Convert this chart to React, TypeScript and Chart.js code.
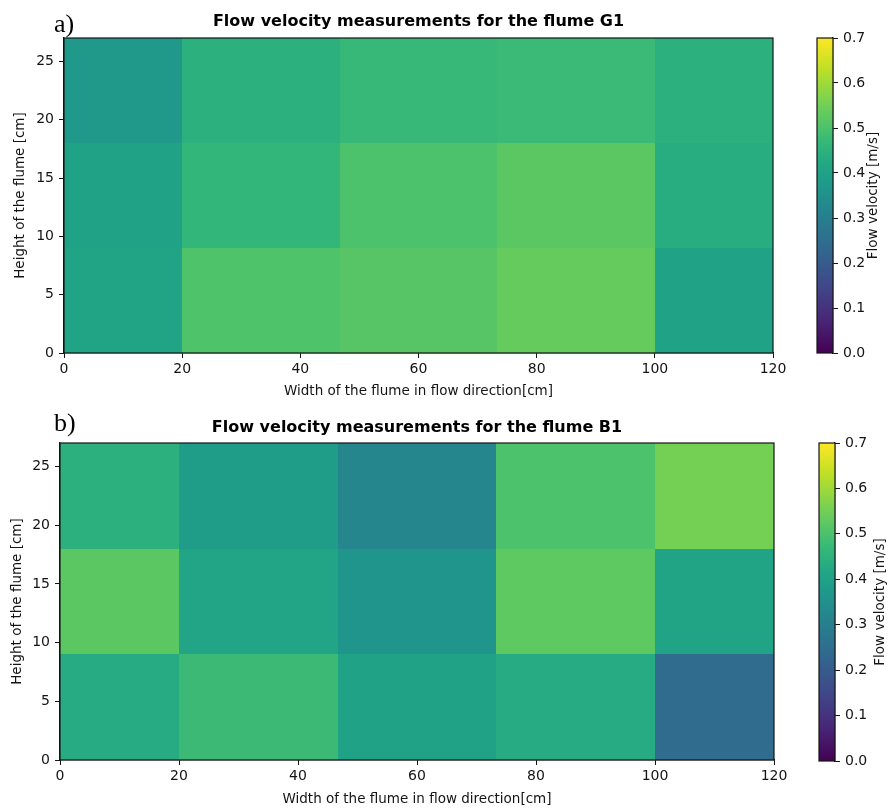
import React, { useEffect, useRef } from "react";
import { Chart, registerables } from "chart.js";

Chart.register(...registerables);

// ---- data ----
const xEdges = [0, 20, 46.7, 73.3, 100, 120];
const yEdges = [0, 9, 18, 27];
const xTicks = [0, 20, 40, 60, 80, 100, 120];
const yTicks = [0, 5, 10, 15, 20, 25];
const cbTicks = [0, 0.1, 0.2, 0.3, 0.4, 0.5, 0.6, 0.7];
const vMin = 0;
const vMax = 0.7;

// flume G1 rows (bottom 0-9, middle 9-18, top 18-27), columns left to right
const g1Bottom = [0.405, 0.505, 0.515, 0.535, 0.4];
const g1Middle = [0.4, 0.463, 0.5, 0.52, 0.435];
const g1Top = [0.37, 0.445, 0.47, 0.475, 0.445];

// flume B1
const b1Bottom = [0.43, 0.477, 0.4, 0.43, 0.245];
const b1Middle = [0.52, 0.41, 0.362, 0.525, 0.405];
const b1Top = [0.445, 0.385, 0.32, 0.5, 0.553];

const titleG1 = "Flow velocity measurements for the flume G1";
const titleB1 = "Flow velocity measurements for the flume B1";
const xTitle = "Width of the flume in flow direction[cm]";
const yTitle = "Height of the flume [cm]";
const cbTitle = "Flow velocity [m/s]";

// ---- colormap ----
const VIRIDIS: [number, string][] = [
  [0, "#440154"], [0.1, "#482475"], [0.111, "#482878"], [0.2, "#414487"],
  [0.222, "#3e4a89"], [0.3, "#355f8d"], [0.333, "#31688e"], [0.4, "#2a788e"],
  [0.444, "#26828e"], [0.5, "#21918c"], [0.556, "#1f9e89"], [0.6, "#22a884"],
  [0.667, "#35b779"], [0.7, "#44bf70"], [0.778, "#6dcd59"], [0.8, "#7ad151"],
  [0.889, "#b4de2c"], [0.9, "#bddf26"], [1, "#fde725"],
];
function hex(h: string) {
  return [1, 3, 5].map((i) => parseInt(h.slice(i, i + 2), 16));
}
function viridis(t: number) {
  t = Math.max(0, Math.min(1, t));
  for (let i = 0; i < VIRIDIS.length - 1; i++) {
    const [t0, c0] = VIRIDIS[i];
    const [t1, c1] = VIRIDIS[i + 1];
    if (t <= t1) {
      const f = (t - t0) / (t1 - t0);
      const a = hex(c0), b = hex(c1);
      const c = a.map((v, k) => Math.round(v + (b[k] - v) * f));
      return `rgb(${c[0]},${c[1]},${c[2]})`;
    }
  }
  return VIRIDIS[VIRIDIS.length - 1][1];
}

const FONT = '"DejaVu Sans", Verdana, sans-serif';
const INK = "#141414";

function buildCells(rows: number[][]) {
  const cells: any[] = [];
  rows.forEach((row, r) =>
    row.forEach((v, c) => {
      cells.push({
        x: (xEdges[c] + xEdges[c + 1]) / 2,
        y: (yEdges[r] + yEdges[r + 1]) / 2,
        x0: xEdges[c], x1: xEdges[c + 1],
        y0: yEdges[r], y1: yEdges[r + 1], v,
      });
    })
  );
  return cells;
}

function heatPlugin(panel: string, labelBaseline: number) {
  return {
    id: "heatcells",
    beforeDatasetsDraw(chart: any) {
      const { ctx, scales } = chart;
      const xs = scales.x, ys = scales.y;
      const data = chart.data.datasets[0].data as any[];
      ctx.save();
      data.forEach((d) => {
        const px0 = Math.round(xs.getPixelForValue(d.x0));
        const px1 = Math.round(xs.getPixelForValue(d.x1));
        const py0 = Math.round(ys.getPixelForValue(d.y0));
        const py1 = Math.round(ys.getPixelForValue(d.y1));
        ctx.fillStyle = viridis((d.v - vMin) / (vMax - vMin));
        ctx.fillRect(px0, py1, px1 - px0, py0 - py1);
      });
      ctx.restore();
    },
    afterDraw(chart: any) {
      const { ctx, chartArea: a } = chart;
      ctx.save();
      ctx.strokeStyle = INK;
      ctx.lineWidth = 1.2;
      ctx.strokeRect(a.left, a.top, a.right - a.left, a.bottom - a.top);
      ctx.fillStyle = "#000";
      ctx.font = '26px "Liberation Serif", "Times New Roman", serif';
      ctx.textAlign = "left";
      ctx.textBaseline = "alphabetic";
      ctx.fillText(panel, 54, labelBaseline);
      ctx.restore();
    },
  };
}

function colorbarPlugin(labelX: number) {
  return {
    id: "colorbar",
    beforeDatasetsDraw(chart: any) {
      const { ctx, chartArea: a, scales } = chart;
      const ys = scales.y;
      const pBottom = ys.getPixelForValue(vMin);
      const pTop = ys.getPixelForValue(vMax);
      const grad = ctx.createLinearGradient(0, pBottom, 0, pTop);
      VIRIDIS.forEach(([t, c]) => grad.addColorStop(t, c));
      ctx.save();
      ctx.fillStyle = grad;
      ctx.fillRect(a.left, pTop, a.right - a.left, pBottom - pTop);
      ctx.restore();
    },
    afterDraw(chart: any) {
      const { ctx, chartArea: a } = chart;
      ctx.save();
      ctx.strokeStyle = INK;
      ctx.lineWidth = 1.2;
      ctx.strokeRect(a.left, a.top, a.right - a.left, a.bottom - a.top);
      ctx.translate(labelX, (a.top + a.bottom) / 2);
      ctx.rotate(-Math.PI / 2);
      ctx.fillStyle = INK;
      ctx.font = `13.5px ${FONT}`;
      ctx.textAlign = "center";
      ctx.textBaseline = "middle";
      ctx.fillText(cbTitle, 0, 0);
      ctx.restore();
    },
  };
}

type HeatProps = {
  rows: number[][];
  title: string;
  panel: string;
  width: number;
  height: number;
  yAxisWidth: number;
  xAxisHeight: number;
  padRight: number;
  titlePadTop: number;
  titlePadBottom: number;
  yTitlePad: number;
  xTitlePad: number;
  labelBaseline: number;
};

function Heatmap(p: HeatProps) {
  const ref = useRef<HTMLCanvasElement>(null);
  useEffect(() => {
    const tickFont = { family: FONT, size: 14 };
    const chart = new Chart(ref.current as HTMLCanvasElement, {
      type: "scatter",
      data: {
        datasets: [
          { data: buildCells(p.rows), pointRadius: 0, pointHoverRadius: 0 },
        ],
      },
      options: {
        responsive: false,
        animation: false,
        events: [],
        layout: { padding: { left: 0, right: p.padRight, top: 0, bottom: 0 } },
        plugins: {
          legend: { display: false },
          tooltip: { enabled: false },
          title: {
            display: true,
            text: p.title,
            fullSize: false,
            color: "#000",
            font: { family: FONT, size: 16, weight: "bold" },
            padding: { top: p.titlePadTop, bottom: p.titlePadBottom },
          },
        },
        scales: {
          x: {
            type: "linear",
            position: "bottom",
            min: xEdges[0],
            max: xEdges[xEdges.length - 1],
            afterBuildTicks: (s: any) => {
              s.ticks = xTicks.map((v) => ({ value: v }));
            },
            afterFit: (s: any) => {
              s.height = p.xAxisHeight;
            },
            ticks: { color: INK, font: tickFont, padding: 3, maxRotation: 0 },
            grid: { drawOnChartArea: false, drawTicks: true, tickLength: 5, color: INK },
            border: { display: true, color: INK, width: 1.2 },
            title: {
              display: true,
              text: xTitle,
              color: INK,
              font: { family: FONT, size: 13.5 },
              padding: { top: 0, bottom: p.xTitlePad },
            },
          },
          y: {
            type: "linear",
            position: "left",
            min: yEdges[0],
            max: yEdges[yEdges.length - 1],
            afterBuildTicks: (s: any) => {
              s.ticks = yTicks.map((v) => ({ value: v }));
            },
            afterFit: (s: any) => {
              s.width = p.yAxisWidth;
            },
            ticks: { color: INK, font: tickFont, padding: 5 },
            grid: { drawOnChartArea: false, drawTicks: true, tickLength: 5, color: INK },
            border: { display: true, color: INK, width: 1.2 },
            title: {
              display: true,
              text: yTitle,
              color: INK,
              font: { family: FONT, size: 13.5 },
              padding: { top: p.yTitlePad, bottom: 0 },
            },
          },
        },
      } as any,
      plugins: [heatPlugin(p.panel, p.labelBaseline)],
    });
    return () => chart.destroy();
  }, []);
  return <canvas ref={ref} width={p.width} height={p.height} style={{ display: "block" }} />;
}

type CbProps = {
  width: number;
  height: number;
  padLeft: number;
  padTop: number;
  padBottom: number;
  axisWidth: number;
  labelX: number;
};

function Colorbar(p: CbProps) {
  const ref = useRef<HTMLCanvasElement>(null);
  useEffect(() => {
    const chart = new Chart(ref.current as HTMLCanvasElement, {
      type: "scatter",
      data: { datasets: [{ data: [], pointRadius: 0 }] },
      options: {
        responsive: false,
        animation: false,
        events: [],
        layout: { padding: { left: p.padLeft, right: 0, top: p.padTop, bottom: p.padBottom } },
        plugins: { legend: { display: false }, tooltip: { enabled: false } },
        scales: {
          x: { display: false, min: 0, max: 1 },
          y: {
            type: "linear",
            position: "right",
            min: vMin,
            max: vMax,
            afterBuildTicks: (s: any) => {
              s.ticks = cbTicks.map((v) => ({ value: v }));
            },
            afterFit: (s: any) => {
              s.width = p.axisWidth;
            },
            ticks: {
              color: INK,
              font: { family: FONT, size: 14 },
              padding: 5,
              callback: (v: any) => Number(v).toFixed(1),
            },
            grid: { drawOnChartArea: false, drawTicks: true, tickLength: 5, color: INK },
            border: { display: true, color: INK, width: 1.2 },
          },
        },
      } as any,
      plugins: [colorbarPlugin(p.labelX)],
    });
    return () => chart.destroy();
  }, []);
  return <canvas ref={ref} width={p.width} height={p.height} style={{ display: "block" }} />;
}

export default function App() {
  return (
    <div style={{ position: "absolute", left: 0, top: 0, width: 890, height: 809, background: "#fff" }}>
      <div style={{ position: "absolute", left: 0, top: 0 }}>
        <Heatmap
          rows={[g1Bottom, g1Middle, g1Top]}
          title={titleG1}
          panel="a)"
          width={800}
          height={400}
          yAxisWidth={64}
          xAxisHeight={47}
          padRight={27}
          titlePadTop={12.4}
          titlePadBottom={6.4}
          yTitlePad={12.4}
          xTitlePad={0}
          labelBaseline={32}
        />
      </div>
      <div style={{ position: "absolute", left: 800, top: 0 }}>
        <Colorbar width={90} height={400} padLeft={17} padTop={38} padBottom={47} axisWidth={57} labelX={73} />
      </div>
      <div style={{ position: "absolute", left: 0, top: 400 }}>
        <Heatmap
          rows={[b1Bottom, b1Middle, b1Top]}
          title={titleB1}
          panel="b)"
          width={800}
          height={409}
          yAxisWidth={60}
          xAxisHeight={49}
          padRight={26}
          titlePadTop={18.4}
          titlePadBottom={5.4}
          yTitlePad={9.4}
          xTitlePad={1}
          labelBaseline={31}
        />
      </div>
      <div style={{ position: "absolute", left: 800, top: 400 }}>
        <Colorbar width={90} height={409} padLeft={19} padTop={43} padBottom={48} axisWidth={55} labelX={80} />
      </div>
    </div>
  );
}
